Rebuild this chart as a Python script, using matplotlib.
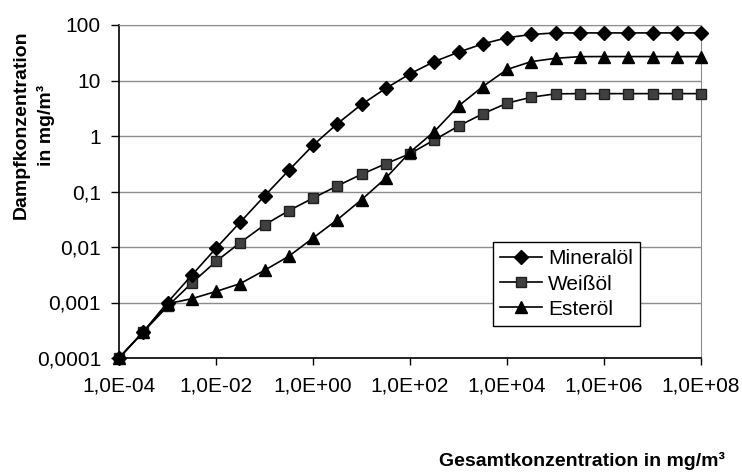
import matplotlib
matplotlib.use("Agg")
import matplotlib.pyplot as plt
from matplotlib.ticker import FixedLocator, FuncFormatter, NullLocator

plt.rcParams['font.family'] = ['Liberation Sans', 'DejaVu Sans']

# Gesamtkonzentration (mg/m3), half-decade steps
gesamt = [1e-4, 3.16e-4, 1e-3, 3.16e-3, 1e-2, 3.16e-2, 1e-1, 3.16e-1,
          1e0, 3.16e0, 1e1, 3.16e1, 1e2, 3.16e2, 1e3, 3.16e3,
          1e4, 3.16e4, 1e5, 3.16e5, 1e6, 3.16e6, 1e7, 3.16e7, 1e8]

# Dampfkonzentration (mg/m3)
mineraloel = [1e-4, 2.95e-4, 1.0e-3, 3.1e-3, 9.5e-3, 0.028, 0.083, 0.24,
              0.68, 1.66, 3.7, 7.2, 13.2, 21.9, 32.4, 45.7,
              58.9, 67.6, 72, 72, 72, 72, 72, 72, 72]
weissoel = [1e-4, 2.95e-4, 8.5e-4, 2.24e-3, 5.5e-3, 0.012, 0.025, 0.045,
            0.076, 0.126, 0.204, 0.316, 0.48, 0.85, 1.51, 2.51,
            3.9, 5.0, 5.75, 5.8, 5.8, 5.8, 5.8, 5.8, 5.8]
esteroel = [1e-4, 2.95e-4, 9.5e-4, 1.17e-3, 1.58e-3, 2.19e-3, 3.8e-3, 6.8e-3,
            0.0145, 0.031, 0.071, 0.174, 0.51, 1.2, 3.47, 7.76,
            15.8, 21.9, 25.1, 26.9, 27, 27, 27, 27, 27]

x_ticks = [1e-4, 1e-2, 1e0, 1e2, 1e4, 1e6, 1e8]
x_labels = ['1,0E-04', '1,0E-02', '1,0E+00', '1,0E+02', '1,0E+04', '1,0E+06', '1,0E+08']
y_ticks = [1e-4, 1e-3, 1e-2, 1e-1, 1, 10, 100]
y_labels = ['0,0001', '0,001', '0,01', '0,1', '1', '10', '100']


def pick(ticks, labels):
    # label of the nearest fixed tick
    return lambda v, p: labels[ticks.index(min(ticks, key=lambda t: abs(t / v - 1)))]


W, H = 742, 472
fig = plt.figure(figsize=(W / 100, H / 100), dpi=100)
ax = fig.add_axes([119 / W, 1 - 358 / H, (701 - 119) / W, (358 - 25) / H])

ax.set_xscale('log')
ax.set_yscale('log')
ax.set_xlim(1e-4, 1e8)
ax.set_ylim(1e-4, 100)

ax.plot(gesamt, mineraloel, color='black', lw=1.2, marker='D', ms=7.5,
        mfc='black', mec='black', label='Mineralöl', clip_on=False, zorder=5)
ax.plot(gesamt, weissoel, color='black', lw=1.2, marker='s', ms=7.5,
        mfc='#404040', mec='#202020', label='Weißöl', clip_on=False, zorder=4)
ax.plot(gesamt, esteroel, color='black', lw=1.2, marker='^', ms=9,
        mfc='black', mec='black', label='Esteröl', clip_on=False, zorder=6)

ax.xaxis.set_major_locator(FixedLocator(x_ticks))
ax.xaxis.set_minor_locator(NullLocator())
ax.xaxis.set_major_formatter(FuncFormatter(pick(x_ticks, x_labels)))
ax.yaxis.set_major_locator(FixedLocator(y_ticks))
ax.yaxis.set_minor_locator(NullLocator())
ax.yaxis.set_major_formatter(FuncFormatter(pick(y_ticks, y_labels)))

ax.tick_params(axis='both', which='major', labelsize=15, direction='out',
               color='black', width=1)
ax.tick_params(axis='x', length=5, pad=8)
ax.tick_params(axis='y', length=6, pad=7)

ax.grid(axis='y', color='#8c8c8c', lw=1)
ax.set_axisbelow(True)
for s in ['top', 'right']:
    ax.spines[s].set_color('#8c8c8c')
for s in ['left', 'bottom']:
    ax.spines[s].set_color('black')
    ax.spines[s].set_linewidth(1.2)

leg = ax.legend(loc='upper left', bbox_to_anchor=(493 / W, 1 - 242 / H),
                bbox_transform=fig.transFigure, borderaxespad=0,
                fontsize=15, frameon=True, fancybox=False, framealpha=1,
                edgecolor='black', handlelength=2.0, handletextpad=0.3,
                labelspacing=0.3, borderpad=0.35)
leg.get_frame().set_linewidth(1.0)

fig.text(34 / W, 1 - 125 / H, 'Dampfkonzentration\nin mg/m³', rotation=90,
         ha='center', va='center', multialignment='center',
         fontsize=14, fontweight='bold', linespacing=1.55)
fig.text(725 / W, 1 - 461 / H, 'Gesamtkonzentration in mg/m³',
         ha='right', va='center', fontsize=14, fontweight='bold')

fig.savefig('out.png', dpi=100)
